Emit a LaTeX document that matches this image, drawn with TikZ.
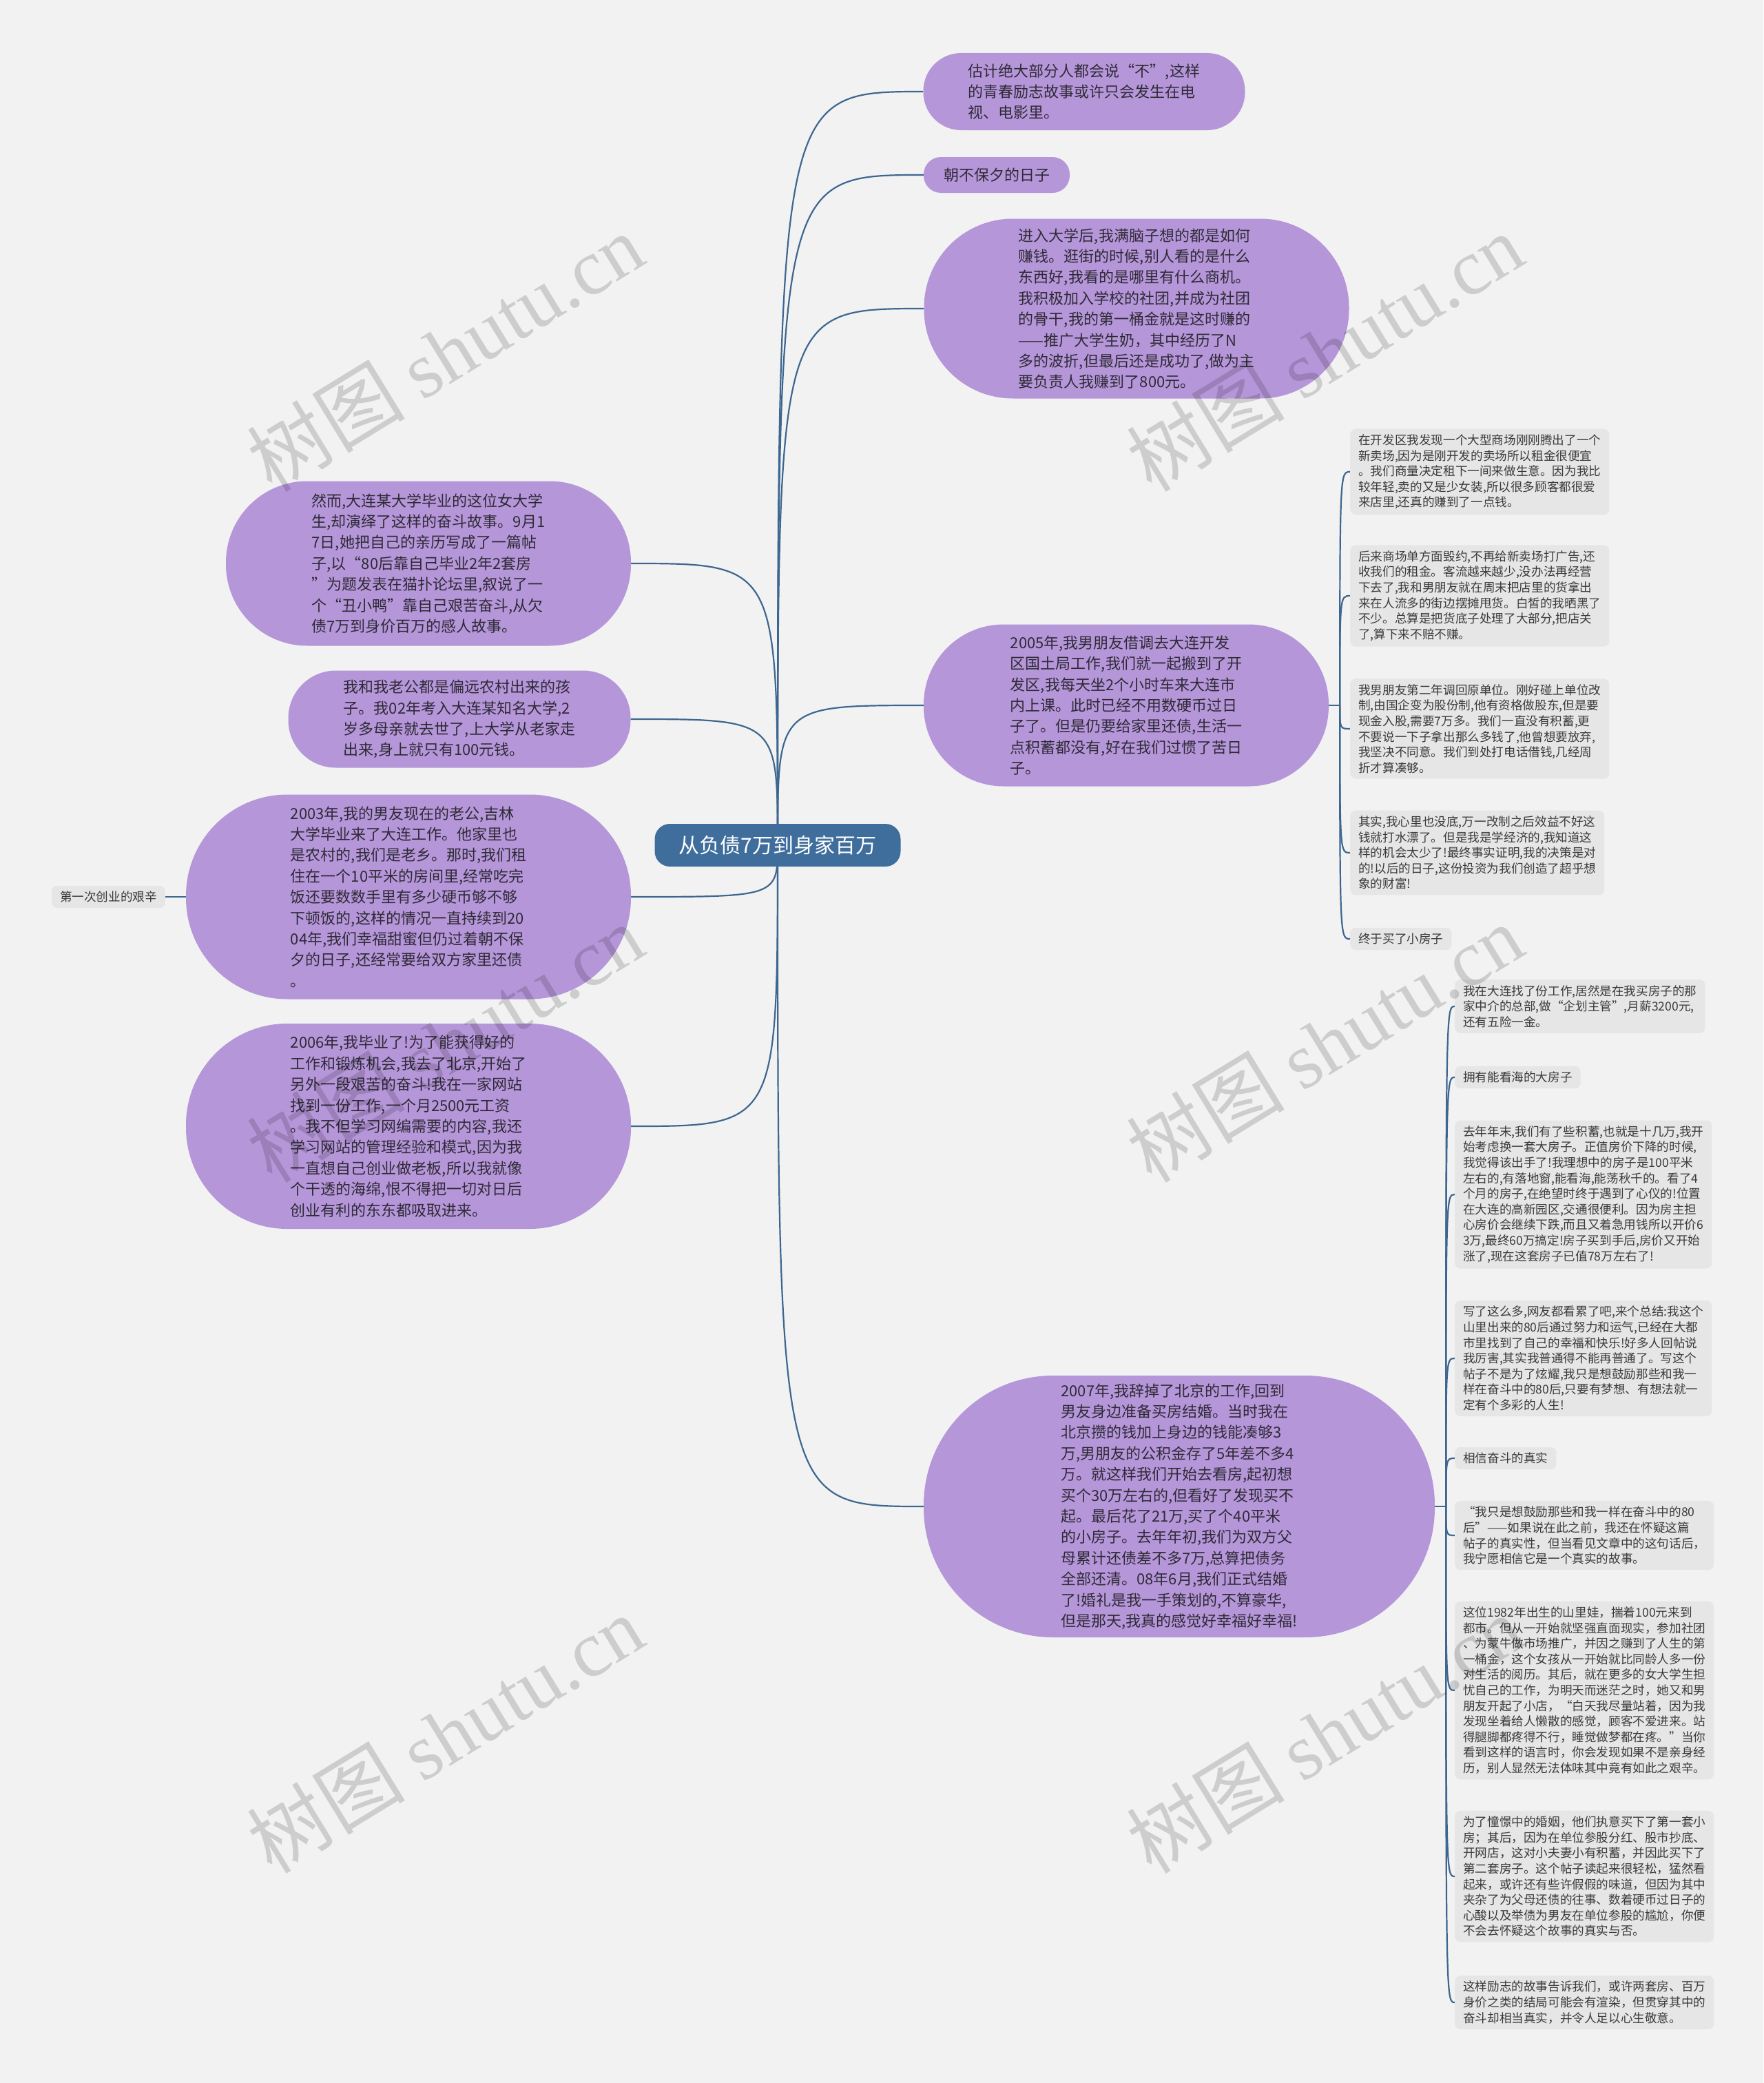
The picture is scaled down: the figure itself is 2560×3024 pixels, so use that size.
\documentclass[tikz,border=0pt]{standalone}
\usepackage{fontspec}
\setmainfont{Noto Sans CJK SC}
\newfontfamily\latinserif{Liberation Serif}
\usetikzlibrary{backgrounds}
\definecolor{pagegray}{HTML}{F2F2F2}
\definecolor{rootblue}{HTML}{3F6E9C}
\definecolor{topicpurple}{HTML}{B596D9}
\definecolor{leafgray}{HTML}{E6E6E6}
\definecolor{linkblue}{HTML}{3D6790}
\definecolor{inkdark}{HTML}{2F2A36}
\definecolor{leafink}{HTML}{3A3A3A}

\begin{document}
\begin{tikzpicture}[
    x=1pt, y=-1pt,
    root/.style={fill=rootblue, text=white, rounded corners=22pt, minimum width=357, minimum height=62, font=\fontsize{30}{36}\selectfont},
    topic/.style={fill=topicpurple, text=inkdark, align=left, inner sep=0pt, font=\fontsize{22}{30.4}\selectfont},
    leaf/.style={fill=leafgray, text=leafink, rounded corners=8pt, align=left, anchor=west, inner xsep=12pt, inner ysep=8pt, font=\fontsize{17.6}{22.6}\selectfont},
    link/.style={draw=linkblue, line width=2.2pt},
    wmark/.style={text=black, opacity=0.15, rotate=31.5, font=\fontsize{115}{115}\selectfont},
]
    \useasboundingbox (0,0) rectangle (2560,3024);

    % =====================================================================
    % ROOT
    % =====================================================================
    \node[root] (root) at (1129,1227) {从负债7万到身家百万};

    % =====================================================================
    % RIGHT BRANCHES
    % =====================================================================
    \node[topic, minimum width=467, minimum height=112, rounded corners=55pt] (r1) at (1574,133) {估计绝大部分人都会说“不”,这样\\的青春励志故事或许只会发生在电\\视、电影里。};
    \node[topic, minimum width=212, minimum height=52, rounded corners=25pt] (r2) at (1447,254) {朝不保夕的日子};
    \node[topic, minimum width=617, minimum height=261, rounded corners=129pt] (r3) at (1650,448) {进入大学后,我满脑子想的都是如何\\赚钱。逛街的时候,别人看的是什么\\东西好,我看的是哪里有什么商机。\\我积极加入学校的社团,并成为社团\\的骨干,我的第一桶金就是这时赚的\\——推广大学生奶，其中经历了N\\多的波折,但最后还是成功了,做为主\\要负责人我赚到了800元。};
    \node[topic, minimum width=588, minimum height=235, rounded corners=116pt] (r4) at (1635,1024) {2005年,我男朋友借调去大连开发\\区国土局工作,我们就一起搬到了开\\发区,我每天坐2个小时车来大连市\\内上课。此时已经不用数硬币过日\\子了。但是仍要给家里还债,生活一\\点积蓄都没有,好在我们过惯了苦日\\子。};
    \node[topic, minimum width=742, minimum height=380, rounded corners=188pt] (r5) at (1712,2187) {2007年,我辞掉了北京的工作,回到\\男友身边准备买房结婚。当时我在\\北京攒的钱加上身边的钱能凑够3\\万,男朋友的公积金存了5年差不多4\\万。就这样我们开始去看房,起初想\\买个30万左右的,但看好了发现买不\\起。最后花了21万,买了个40平米\\的小房子。去年年初,我们为双方父\\母累计还债差不多7万,总算把债务\\全部还清。08年6月,我们正式结婚\\了!婚礼是我一手策划的,不算豪华,\\但是那天,我真的感觉好幸福好幸福!};

    % 2005 details
    \node[leaf] (s1) at (1960,685) {在开发区我发现一个大型商场刚刚腾出了一个\\新卖场,因为是刚开发的卖场所以租金很便宜\\。我们商量决定租下一间来做生意。因为我比\\较年轻,卖的又是少女装,所以很多顾客都很爱\\来店里,还真的赚到了一点钱。};
    \node[leaf] (s2) at (1960,865) {后来商场单方面毁约,不再给新卖场打广告,还\\收我们的租金。客流越来越少,没办法再经营\\下去了,我和男朋友就在周末把店里的货拿出\\来在人流多的街边摆摊甩货。白皙的我晒黑了\\不少。总算是把货底子处理了大部分,把店关\\了,算下来不赔不赚。};
    \node[leaf] (s3) at (1960,1058) {我男朋友第二年调回原单位。刚好碰上单位改\\制,由国企变为股份制,他有资格做股东,但是要\\现金入股,需要7万多。我们一直没有积蓄,更\\不要说一下子拿出那么多钱了,他曾想要放弃,\\我坚决不同意。我们到处打电话借钱,几经周\\折才算凑够。};
    \node[leaf] (s4) at (1960,1238) {其实,我心里也没底,万一改制之后效益不好这\\钱就打水漂了。但是我是学经济的,我知道这\\样的机会太少了!最终事实证明,我的决策是对\\的!以后的日子,这份投资为我们创造了超乎想\\象的财富!};
    \node[leaf] (s5) at (1960,1363) {终于买了小房子};

    % 2007 details
    \node[leaf] (c1) at (2112,1461) {我在大连找了份工作,居然是在我买房子的那\\家中介的总部,做“企划主管”,月薪3200元,\\还有五险一金。};
    \node[leaf] (c2) at (2112,1564) {拥有能看海的大房子};
    \node[leaf] (c3) at (2112,1734) {去年年末,我们有了些积蓄,也就是十几万,我开\\始考虑换一套大房子。正值房价下降的时候,\\我觉得该出手了!我理想中的房子是100平米\\左右的,有落地窗,能看海,能荡秋千的。看了4\\个月的房子,在绝望时终于遇到了心仪的!位置\\在大连的高新园区,交通很便利。因为房主担\\心房价会继续下跌,而且又着急用钱所以开价6\\3万,最终60万搞定!房子买到手后,房价又开始\\涨了,现在这套房子已值78万左右了!};
    \node[leaf] (c4) at (2112,1972) {写了这么多,网友都看累了吧,来个总结:我这个\\山里出来的80后通过努力和运气,已经在大都\\市里找到了自己的幸福和快乐!好多人回帖说\\我厉害,其实我普通得不能再普通了。写这个\\帖子不是为了炫耀,我只是想鼓励那些和我一\\样在奋斗中的80后,只要有梦想、有想法就一\\定有个多彩的人生!};
    \node[leaf] (c5) at (2112,2117) {相信奋斗的真实};
    \node[leaf] (c6) at (2112,2229) {“我只是想鼓励那些和我一样在奋斗中的80\\后”——如果说在此之前，我还在怀疑这篇\\帖子的真实性，但当看见文章中的这句话后，\\我宁愿相信它是一个真实的故事。};
    \node[leaf] (c7) at (2112,2454) {这位1982年出生的山里娃，揣着100元来到\\都市。但从一开始就坚强直面现实，参加社团\\、为蒙牛做市场推广，并因之赚到了人生的第\\一桶金，这个女孩从一开始就比同龄人多一份\\对生活的阅历。其后，就在更多的女大学生担\\忧自己的工作，为明天而迷茫之时，她又和男\\朋友开起了小店，“白天我尽量站着，因为我\\发现坐着给人懒散的感觉，顾客不爱进来。站\\得腿脚都疼得不行，睡觉做梦都在疼。”当你\\看到这样的语言时，你会发现如果不是亲身经\\历，别人显然无法体味其中竟有如此之艰辛。};
    \node[leaf] (c8) at (2112,2724) {为了憧憬中的婚姻，他们执意买下了第一套小\\房；其后，因为在单位参股分红、股市抄底、\\开网店，这对小夫妻小有积蓄，并因此买下了\\第二套房子。这个帖子读起来很轻松，猛然看\\起来，或许还有些许假假的味道，但因为其中\\夹杂了为父母还债的往事、数着硬币过日子的\\心酸以及举债为男友在单位参股的尴尬，你便\\不会去怀疑这个故事的真实与否。};
    \node[leaf] (c9) at (2112,2907) {这样励志的故事告诉我们，或许两套房、百万\\身价之类的结局可能会有渲染，但贯穿其中的\\奋斗却相当真实，并令人足以心生敬意。};

    % =====================================================================
    % LEFT BRANCHES
    % =====================================================================
    \node[topic, minimum width=588, minimum height=239, rounded corners=118pt] (l1) at (622,818) {然而,大连某大学毕业的这位女大学\\生,却演绎了这样的奋斗故事。9月1\\7日,她把自己的亲历写成了一篇帖\\子,以“80后靠自己毕业2年2套房\\”为题发表在猫扑论坛里,叙说了一\\个“丑小鸭”靠自己艰苦奋斗,从欠\\债7万到身价百万的感人故事。};
    \node[topic, minimum width=497, minimum height=141, rounded corners=69pt] (l2) at (667,1044) {我和我老公都是偏远农村出来的孩\\子。我02年考入大连某知名大学,2\\岁多母亲就去世了,上大学从老家走\\出来,身上就只有100元钱。};
    \node[topic, minimum width=646, minimum height=297, rounded corners=147pt] (l3) at (593,1302) {2003年,我的男友现在的老公,吉林\\大学毕业来了大连工作。他家里也\\是农村的,我们是老乡。那时,我们租\\住在一个10平米的房间里,经常吃完\\饭还要数数手里有多少硬币够不够\\下顿饭的,这样的情况一直持续到20\\04年,我们幸福甜蜜但仍过着朝不保\\夕的日子,还经常要给双方家里还债\\。};
    \node[topic, minimum width=646, minimum height=298, rounded corners=147pt] (l4) at (593,1635) {2006年,我毕业了!为了能获得好的\\工作和锻炼机会,我去了北京,开始了\\另外一段艰苦的奋斗!我在一家网站\\找到一份工作,一个月2500元工资\\。我不但学习网编需要的内容,我还\\学习网站的管理经验和模式,因为我\\一直想自己创业做老板,所以我就像\\个干透的海绵,恨不得把一切对日后\\创业有利的东东都吸取进来。};
    \node[leaf, anchor=east] (l3a) at (240,1302) {第一次创业的艰辛};

    % =====================================================================
    % CONNECTORS (behind the nodes)
    % =====================================================================
    \begin{scope}[on background layer]
        \fill[pagegray] (0,0) rectangle (2560,3024);

        % root to topics
        \draw[link] (root.center) .. controls (root.center |- r1.west) .. (r1.west);
        \draw[link] (root.center) .. controls (root.center |- r2.west) .. (r2.west);
        \draw[link] (root.center) .. controls (root.center |- r3.west) .. (r3.west);
        \draw[link] (root.center) .. controls (root.center |- r4.west) .. (r4.west);
        \draw[link] (root.center) .. controls (root.center |- r5.west) .. (r5.west);
        \draw[link] (root.center) .. controls (root.center |- l1.east) .. (l1.east);
        \draw[link] (root.center) .. controls (root.center |- l2.east) .. (l2.east);
        \draw[link] (root.center) .. controls (root.center |- l3.east) .. (l3.east);
        \draw[link] (root.center) .. controls (root.center |- l4.east) .. (l4.east);
        \draw[link] (l3.west) -- (l3a.east);

        % 2005 bracket
        \coordinate (r4hub) at ([xshift=16pt]r4.east);
        \draw[link] (r4.east) -- (r4hub);
        \draw[link] (r4hub) .. controls (r4hub |- s1.west) .. (s1.west);
        \draw[link] (r4hub) .. controls (r4hub |- s2.west) .. (s2.west);
        \draw[link] (r4hub) .. controls (r4hub |- s3.west) .. (s3.west);
        \draw[link] (r4hub) .. controls (r4hub |- s4.west) .. (s4.west);
        \draw[link] (r4hub) .. controls (r4hub |- s5.west) .. (s5.west);

        % 2007 bracket
        \coordinate (r5hub) at ([xshift=16pt]r5.east);
        \draw[link] (r5.east) -- (r5hub);
        \draw[link] (r5hub) .. controls (r5hub |- c1.west) .. (c1.west);
        \draw[link] (r5hub) .. controls (r5hub |- c2.west) .. (c2.west);
        \draw[link] (r5hub) .. controls (r5hub |- c3.west) .. (c3.west);
        \draw[link] (r5hub) .. controls (r5hub |- c4.west) .. (c4.west);
        \draw[link] (r5hub) .. controls (r5hub |- c5.west) .. (c5.west);
        \draw[link] (r5hub) .. controls (r5hub |- c6.west) .. (c6.west);
        \draw[link] (r5hub) .. controls (r5hub |- c7.west) .. (c7.west);
        \draw[link] (r5hub) .. controls (r5hub |- c8.west) .. (c8.west);
        \draw[link] (r5hub) .. controls (r5hub |- c9.west) .. (c9.west);
    \end{scope}

    % Watermarks
    \node[wmark] (wm1) at (646,511) {树图 {\latinserif shutu.cn}};
    \node[wmark] (wm2) at (1923,511) {树图 {\latinserif shutu.cn}};
    \node[wmark] (wm3) at (646,1514) {树图 {\latinserif shutu.cn}};
    \node[wmark] (wm4) at (1923,1514) {树图 {\latinserif shutu.cn}};
    \node[wmark] (wm5) at (646,2517) {树图 {\latinserif shutu.cn}};
    \node[wmark] (wm6) at (1923,2517) {树图 {\latinserif shutu.cn}};

\end{tikzpicture}
\end{document}
